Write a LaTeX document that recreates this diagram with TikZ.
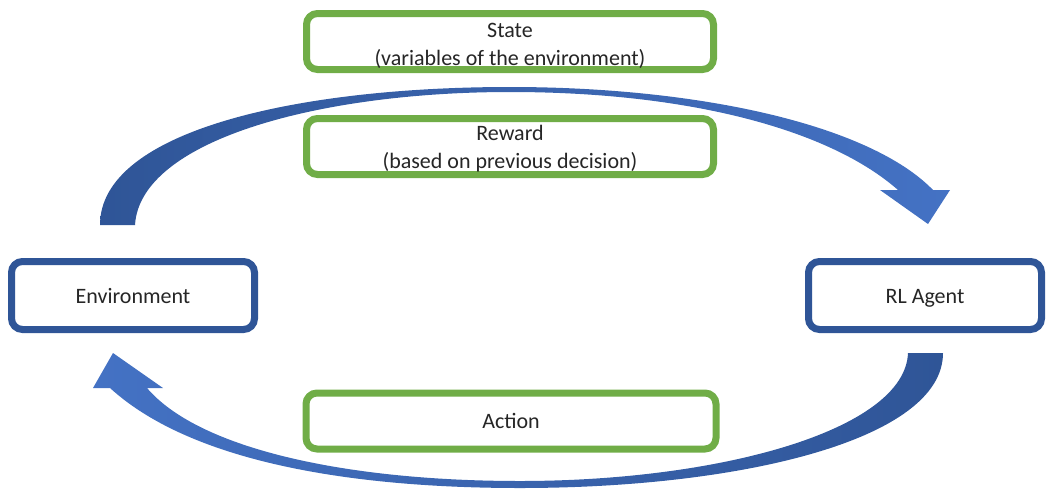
\documentclass[tikz,border=0pt]{standalone}
\usepackage{fontspec}
\setmainfont{Carlito}
\definecolor{darkblue}{HTML}{2F5597}
\definecolor{midblue}{HTML}{4472C4}
\definecolor{boxgreen}{HTML}{70AD47}
\definecolor{txtgray}{HTML}{262626}
\begin{document}
\begin{tikzpicture}[x=1pt,y=-1pt,
  boxtext/.style={font=\fontsize{22}{28}\selectfont, text=txtgray, align=center, inner sep=0pt},
  onelabel/.style={boxtext, text height=15pt, text depth=0pt},
  bluebox/.style={onelabel, fill=white, draw=darkblue, line width=7pt, rounded corners=11pt, minimum height=68pt},
  greenbox/.style={boxtext, fill=white, draw=boxgreen, line width=7pt, rounded corners=11pt, minimum width=407pt, minimum height=56pt}]
\useasboundingbox (0,0) rectangle (1046,488);

% curved block arrows
\coordinate (topTailOut) at (100,225);
\coordinate (topTailIn) at (135,225);
\coordinate (topTip) at (928,224);
\coordinate (botTailOut) at (943,353);
\coordinate (botTailIn) at (908,353);
\coordinate (botTip) at (113,353);

\shade[left color=darkblue, right color=midblue]
  (topTailOut) .. controls (100,130) and (300,87) .. (510,87)
  .. controls (700,87) and (870,125) .. (933,190)
  -- (950,190) -- (topTip) -- (880,190) -- (898,190)
  .. controls (830,130) and (690,92) .. (510,92)
  .. controls (320,92) and (140,140) .. (topTailIn) -- cycle;

\shade[left color=midblue, right color=darkblue]
  (botTailOut) .. controls (943,440) and (740,488) .. (520,488)
  .. controls (380,488) and (200,470) .. (110,388)
  -- (93,388) -- (botTip) -- (163,388) -- (147,388)
  .. controls (200,450) and (350,481) .. (520,481)
  .. controls (720,481) and (905,430) .. (botTailIn) -- cycle;

% boxes
\node[bluebox, minimum width=243pt] (env) at (133,295.5) {Environment};
\node[bluebox, minimum width=233pt] (agent) at (925,295.5) {RL Agent};
\node[greenbox, label={[boxtext, yshift=-4pt]center:State\\(variables of the environment)}] (state) at (510,41.5) {};
\node[greenbox, label={[boxtext, yshift=-2pt]center:Reward\\(based on previous decision)}] (reward) at (510,146.5) {};
\node[greenbox, onelabel, minimum width=410pt] (action) at (511,421) {Action};
\end{tikzpicture}
\end{document}
